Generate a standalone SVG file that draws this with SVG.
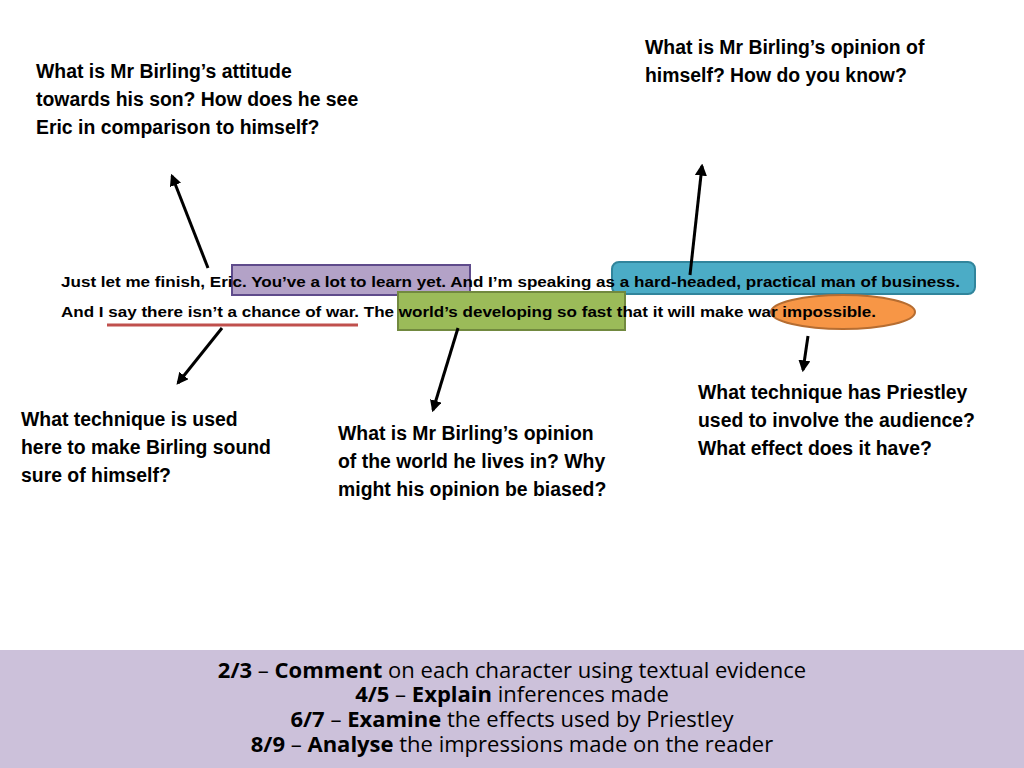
<svg xmlns="http://www.w3.org/2000/svg" width="1024" height="768" viewBox="0 0 1024 768">
<style>
.q{font-family:"Liberation Sans",Arial,sans-serif;font-weight:bold;font-size:19.4px;fill:#000}
.s{font-family:"Liberation Sans",Arial,sans-serif;font-weight:bold;font-size:15px;fill:#000}
.b{font-family:"Open Sans","Liberation Sans",sans-serif;font-size:22px;fill:#000}
.k{font-weight:bold}
.a{stroke:#000;stroke-width:3;fill:none;marker-end:url(#ah)}
</style>
<defs><marker id="ah" viewBox="0 0 10 10" refX="8" refY="5" markerWidth="4" markerHeight="4" orient="auto"><path d="M0,0 L10,5 L0,10 z" fill="#000"/></marker></defs>
<rect width="1024" height="768" fill="#fff"/>
<g id="highlights">
<rect x="232" y="265" width="238" height="30" fill="#b3a2c7" stroke="#5f4b8b" stroke-width="2"/>
<rect x="612" y="262" width="363" height="32" rx="7" fill="#4bacc6" stroke="#31859c" stroke-width="2"/>
<rect x="398" y="292" width="227" height="38" fill="#9bbb59" stroke="#71893f" stroke-width="2"/>
<ellipse cx="843" cy="312" rx="72" ry="17" fill="#f79646" stroke="#b66d31" stroke-width="2"/>
<line x1="107" y1="325" x2="358" y2="325" stroke="#c0504d" stroke-width="3"/>
</g>
<g id="quote">
<text class="s" x="61" y="287" textLength="899" lengthAdjust="spacingAndGlyphs">Just let me finish, Eric. You’ve a lot to learn yet. And I’m speaking as a hard-headed, practical man of business.</text>
<text class="s" x="61" y="317" textLength="815" lengthAdjust="spacingAndGlyphs">And I say there isn’t a chance of war. The world’s developing so fast that it will make war impossible.</text>
</g>
<g id="connectors">
<line class="a" x1="208" y1="268" x2="172" y2="176"/>
<line class="a" x1="690" y1="275" x2="702" y2="166"/>
<line class="a" x1="222" y1="328" x2="178" y2="383"/>
<line class="a" x1="458" y1="328" x2="433" y2="410"/>
<line class="a" x1="808" y1="336" x2="803" y2="370"/>
</g>
<g id="q1"><text class="q"><tspan x="36" y="78">What is Mr Birling’s attitude</tspan><tspan x="36" y="106">towards his son? How does he see</tspan><tspan x="36" y="134">Eric in comparison to himself?</tspan></text></g>
<g id="q2"><text class="q"><tspan x="645" y="54">What is Mr Birling’s opinion of</tspan><tspan x="645" y="82">himself? How do you know?</tspan></text></g>
<g id="q3"><text class="q"><tspan x="21" y="426">What technique is used</tspan><tspan x="21" y="454">here to make Birling sound</tspan><tspan x="21" y="482">sure of himself?</tspan></text></g>
<g id="q4"><text class="q"><tspan x="338" y="440">What is Mr Birling’s opinion</tspan><tspan x="338" y="468">of the world he lives in? Why</tspan><tspan x="338" y="496">might his opinion be biased?</tspan></text></g>
<g id="q5"><text class="q"><tspan x="698" y="399">What technique has Priestley</tspan><tspan x="698" y="427">used to involve the audience?</tspan><tspan x="698" y="455">What effect does it have?</tspan></text></g>
<g id="band">
<rect x="0" y="650" width="1024" height="118" fill="#ccc1da"/>
<text class="b" x="512" y="678" text-anchor="middle"><tspan class="k">2/3</tspan> – <tspan class="k">Comment</tspan> on each character using textual evidence</text>
<text class="b" x="512" y="702" text-anchor="middle"><tspan class="k">4/5</tspan> – <tspan class="k">Explain</tspan> inferences made</text>
<text class="b" x="512" y="727" text-anchor="middle"><tspan class="k">6/7</tspan> – <tspan class="k">Examine</tspan> the effects used by Priestley</text>
<text class="b" x="512" y="752" text-anchor="middle"><tspan class="k">8/9</tspan> – <tspan class="k">Analyse</tspan> the impressions made on the reader</text>
</g>
</svg>
